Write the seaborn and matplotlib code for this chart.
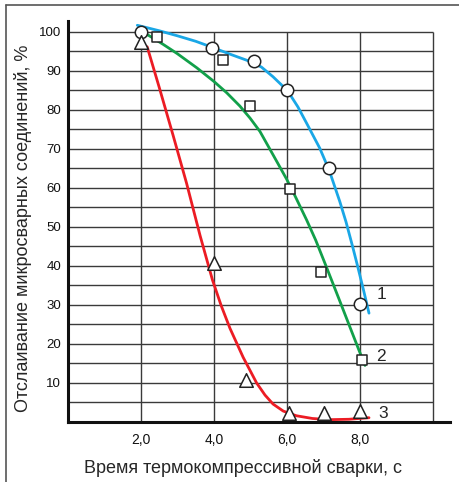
import numpy as np
import pandas as pd
import seaborn as sns
import matplotlib.pyplot as plt
from matplotlib.lines import Line2D

sns.set_style('white')
plt.rcParams['font.family'] = ['Liberation Sans', 'DejaVu Sans']

# сглаженные кривые
blue_x = [1.90, 2.50, 3.00, 3.50, 3.94, 4.44, 4.94, 5.30, 5.62, 6.02, 6.30, 6.54, 6.90, 7.16, 7.45, 7.62, 7.80, 7.95, 8.10, 8.25]
blue_y = [101.7, 100.3, 99.0, 97.6, 96.1, 94.3, 92.6, 91.0, 88.5, 84.9, 80.8, 76.6, 70.2, 64.5, 56.5, 51.3, 45.0, 39.5, 33.8, 27.9]
green_x = [2.05, 2.30, 2.61, 3.00, 3.53, 4.00, 4.35, 4.71, 4.99, 5.26, 5.62, 5.99, 6.22, 6.54, 6.79, 7.08, 7.45, 7.70, 7.95, 8.14]
green_y = [100.0, 98.6, 96.8, 94.4, 90.8, 87.3, 84.4, 81.0, 77.9, 74.5, 68.5, 62.3, 58.0, 51.8, 46.6, 39.8, 31.0, 25.0, 19.0, 14.5]
red_x = [2.17, 2.50, 2.88, 3.25, 3.62, 3.96, 4.20, 4.44, 4.80, 5.17, 5.40, 5.62, 5.90, 6.26, 6.70, 7.18, 7.70, 8.25]
red_y = [96.2, 85.8, 73.5, 61.2, 47.8, 36.4, 29.8, 24.0, 16.6, 10.0, 6.9, 4.6, 2.8, 1.6, 0.9, 0.6, 0.7, 1.1]

# экспериментальные точки
circ_x = [2.0, 3.95, 5.1, 6.0, 7.15, 8.0]
circ_y = [100, 96, 92.5, 85, 65, 30.2]
sq_x = [2.45, 4.24, 4.99, 6.09, 6.93, 8.05]
sq_y = [98.8, 92.8, 81.1, 59.8, 38.4, 15.9]
tri_x = [2.0, 4.0, 4.88, 6.06, 7.01, 8.0]
tri_y = [97.3, 40.7, 10.8, 2.2, 2.2, 2.9]

x_ticks = [2, 4, 6, 8]
x_labels = ['2,0', '4,0', '6,0', '8,0']
y_ticks = list(range(10, 101, 10))

fig = plt.figure(figsize=(4.59, 4.82), dpi=100)
ax = fig.add_axes([68/459, 60/482, 382/459, 401/482])
ax.set_xlim(0, 10.47)
ax.set_ylim(0, 102.8)

# сетка
ax.hlines(np.arange(5, 101, 5), 0, 10, color='#3a3a3a', lw=1.0, zorder=1)
ax.vlines([2, 4, 6, 8, 10], 0, 100, color='#3a3a3a', lw=1.0, zorder=1)

sns.lineplot(x=blue_x, y=blue_y, sort=False, color='#1aa7e6', lw=2.0, ax=ax, zorder=3)
sns.lineplot(x=green_x, y=green_y, sort=False, color='#12a04a', lw=2.0, ax=ax, zorder=3)
sns.lineplot(x=red_x, y=red_y, sort=False, color='#ec1c24', lw=2.0, ax=ax, zorder=3)

sns.scatterplot(x=circ_x, y=circ_y, marker='o', s=80, color='white', edgecolor='#222222', linewidth=1.1, ax=ax, zorder=5, clip_on=False)
sns.scatterplot(x=sq_x, y=sq_y, marker='s', s=55, color='white', edgecolor='#222222', linewidth=1.1, ax=ax, zorder=5, clip_on=False)
sns.scatterplot(x=tri_x, y=tri_y, marker='^', s=95, color='white', edgecolor='#222222', linewidth=1.1, ax=ax, zorder=5, clip_on=False)

ax.text(8.45, 32.6, '1', fontsize=12.5, va='center', ha='left')
ax.text(8.45, 16.7, '2', fontsize=12.5, va='center', ha='left')
ax.text(8.5, 2.3, '3', fontsize=12.5, va='center', ha='left')

for side in ['top', 'right']:
    ax.spines[side].set_visible(False)
for side in ['left', 'bottom']:
    ax.spines[side].set_linewidth(2.2)
    ax.spines[side].set_color('#111111')

ax.set_xticks(x_ticks, labels=x_labels)
ax.set_yticks(y_ticks)
ax.tick_params(axis='both', length=0, colors='#111111')
ax.tick_params(axis='x', pad=8, labelsize=10)
ax.tick_params(axis='y', pad=5, labelsize=9.5)

ax.set_xlabel('Время термокомпрессивной сварки, с', fontsize=13)
ax.xaxis.set_label_coords(0.458, -0.115)
ax.xaxis.label.set_va('center')
ax.set_ylabel('Отслаивание микросварных соединений, %', fontsize=13)
ax.yaxis.set_label_coords(-0.118, 0.484)
ax.yaxis.label.set_va('center')

# рамка
fig.add_artist(Line2D([6/459, 1], [1 - 5/482, 1 - 5/482], color='#555555', lw=1.2))
fig.add_artist(Line2D([6/459, 6/459], [0, 1 - 5/482], color='#555555', lw=1.2))

fig.savefig('out.png', dpi=100)
